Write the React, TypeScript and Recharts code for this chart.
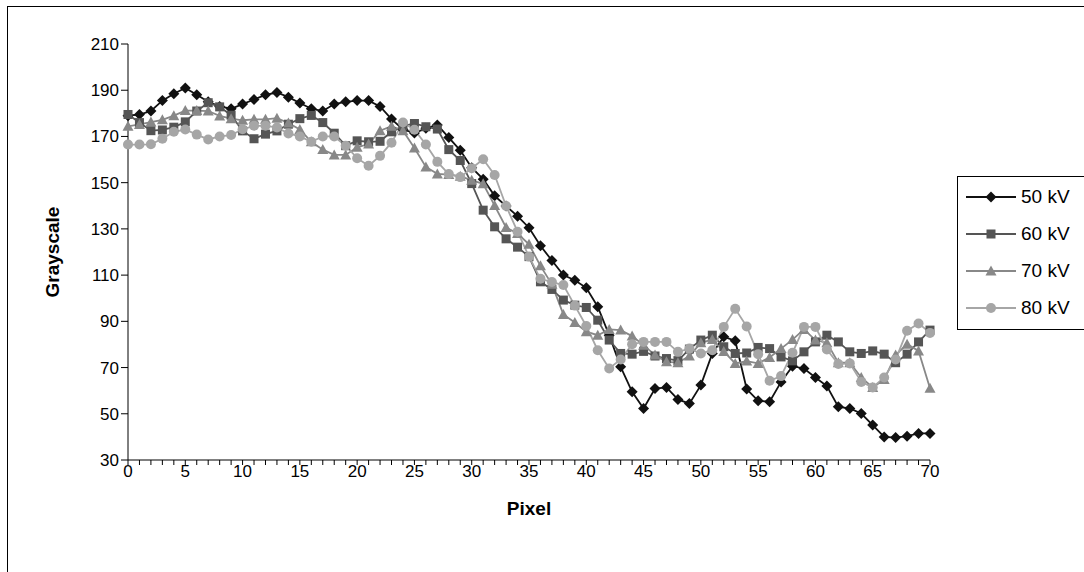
import React from 'react'
import { LineChart, Line, XAxis, YAxis } from 'recharts'

// pixel position along the profile
const PIXELS = [
  0, 1, 2, 3, 4, 5, 6, 7, 8, 9, 10, 11, 12, 13, 14, 15, 16, 17, 18, 19, 20,
  21, 22, 23, 24, 25, 26, 27, 28, 29, 30, 31, 32, 33, 34, 35, 36, 37, 38, 39, 40,
  41, 42, 43, 44, 45, 46, 47, 48, 49, 50, 51, 52, 53, 54, 55, 56, 57, 58, 59, 60,
  61, 62, 63, 64, 65, 66, 67, 68, 69, 70,
]

const KV50 = [
  179, 179.5, 181, 185.5, 188.5, 191, 188, 185, 183, 182, 184, 186, 188, 189, 187, 184.5, 182, 181, 184, 185, 185.5,
  185.5, 183, 177.5, 173, 171.5, 173.5, 175, 169.5, 164, 156.5, 151.5, 144.3, 139.9, 135.5, 130.5, 122.7, 116.3, 110, 107.8, 104.5,
  96.3, 84, 70.3, 59.5, 52.3, 60.9, 61.4, 56.2, 54.4, 62.4, 76.1, 83.3, 81.6, 60.7, 55.6, 55.2, 63.8, 70.6, 69.6, 65.7,
  62, 53, 52.3, 50.1, 45.1, 40, 39.7, 40.3, 41.5, 41.5,
]

const KV60 = [
  179.5, 176, 172.5, 172.8, 174, 176.3, 181, 184.6, 182.8, 179.2, 172.4, 169, 171, 172.4, 175.3, 177.7, 179.1, 176, 171.4, 166, 168.1,
  167.7, 167.9, 172, 174.5, 175.6, 174.2, 173.2, 164.3, 159.6, 149.6, 138.1, 130.9, 125.7, 122.1, 118, 107.1, 103.8, 99.2, 97, 96,
  90.5, 81.9, 76.1, 75.8, 77, 75, 73.9, 73, 78, 81.9, 84, 79, 76.1, 76.3, 78.7, 78.2, 74.6, 72.9, 76.8, 81.1,
  84, 81.1, 76.8, 76.1, 77.2, 75.8, 72.1, 75.8, 81.1, 86.2,
]

const KV70 = [
  174.4, 175.2, 176.2, 177.2, 179, 181.2, 181.2, 181, 178.9, 177.7, 177, 177.4, 177.4, 177.9, 175.8, 173, 167.7, 164.3, 162, 162, 165.3,
  166.7, 172.5, 174.4, 172.5, 165, 156.8, 153.8, 153.5, 152.8, 151, 149.5, 140.1, 130.6, 128, 123.3, 114, 106, 93, 89.5, 85.5,
  84, 86.5, 86.2, 83.6, 79.7, 75.4, 72.5, 72.1, 75, 80.7, 82.1, 77, 71.8, 72.8, 71.8, 74.4, 78.2, 82.1, 86.5, 81.9,
  80.7, 72.1, 72.1, 65.7, 61.4, 64.8, 75.4, 80.1, 77.2, 61,
]

const KV80 = [
  166.5, 166.5, 166.6, 169, 172, 173, 170.8, 168.7, 170, 170.6, 173.1, 174.6, 174.6, 173.9, 171.3, 170, 167.7, 170, 170, 166, 160.6,
  157.3, 161.6, 167.3, 176, 172.9, 166.5, 159, 153.7, 152.4, 156.2, 160.1, 153.3, 139.9, 128.8, 118, 108.4, 107, 105.7, 96.8, 88,
  77.5, 69.6, 73.5, 80.1, 81.1, 81.1, 81.1, 76.8, 78.2, 76.1, 77.5, 87.6, 95.4, 87.8, 75.8, 64.3, 66.3, 76.4, 87.6, 87.6,
  77.8, 71.5, 71.8, 63.8, 61.4, 65.7, 73.5, 85.9, 89.1, 85,
]

const Y_TICKS = [30, 50, 70, 90, 110, 130, 150, 170, 190, 210]

type Shape = 'diamond' | 'square' | 'triangle' | 'circle'

const SERIES: { key: string; name: string; color: string; shape: Shape }[] = [
  { key: 'kv50', name: '50 kV', color: '#111111', shape: 'diamond' },
  { key: 'kv60', name: '60 kV', color: '#555555', shape: 'square' },
  { key: 'kv70', name: '70 kV', color: '#888888', shape: 'triangle' },
  { key: 'kv80', name: '80 kV', color: '#a6a6a6', shape: 'circle' },
]

const data = PIXELS.map((p, i) => ({
  pixel: p,
  kv50: KV50[i],
  kv60: KV60[i],
  kv70: KV70[i],
  kv80: KV80[i],
}))

const FONT = '"Liberation Sans", Arial, sans-serif'

function Marker({ shape, cx, cy, color }: { shape: Shape; cx: number; cy: number; color: string }) {
  if (shape === 'diamond') {
    return <path d={`M${cx},${cy - 5.5}L${cx + 5.5},${cy}L${cx},${cy + 5.5}L${cx - 5.5},${cy}Z`} fill={color} />
  }
  if (shape === 'square') {
    return <rect x={cx - 4.5} y={cy - 4.5} width={9} height={9} fill={color} />
  }
  if (shape === 'triangle') {
    return <path d={`M${cx},${cy - 5.5}L${cx + 5.5},${cy + 4.5}L${cx - 5.5},${cy + 4.5}Z`} fill={color} />
  }
  return <circle cx={cx} cy={cy} r={5} fill={color} />
}

const dotFor = (shape: Shape, color: string) => (props: any) => {
  const { cx, cy, index } = props
  if (cx == null || cy == null) return <g key={index} />
  return (
    <g key={index}>
      <Marker shape={shape} cx={cx} cy={cy} color={color} />
    </g>
  )
}

// every pixel gets a tick mark, only multiples of 5 get a label
const PixelTick = ({ x, y, payload }: any) => {
  if (payload.value % 5 !== 0) return <g />
  return (
    <text x={x} y={y + 10} textAnchor="middle" fontSize={17} fontFamily={FONT} fill="#000">
      {payload.value}
    </text>
  )
}

const GrayTick = ({ x, y, payload }: any) => (
  <text x={x} y={y + 6} textAnchor="end" fontSize={17} fontFamily={FONT} fill="#000">
    {payload.value}
  </text>
)

function LegendBox() {
  return (
    <div
      style={{
        position: 'absolute',
        left: 957,
        top: 176,
        width: 140,
        height: 152,
        border: '1px solid #000',
        background: '#fff',
        fontFamily: FONT,
        fontSize: 19,
      }}
    >
      {SERIES.map((s, i) => (
        <div key={s.key} style={{ position: 'absolute', left: 8, top: 8 + i * 37, height: 24, display: 'flex', alignItems: 'center' }}>
          <svg width={50} height={20}>
            <line x1={0} y1={10} x2={50} y2={10} stroke={s.color} strokeWidth={2} />
            <Marker shape={s.shape} cx={25} cy={10} color={s.color} />
          </svg>
          <span style={{ marginLeft: 5, color: '#000' }}>{s.name}</span>
        </div>
      ))}
    </div>
  )
}

export default function App() {
  return (
    <div style={{ position: 'absolute', left: 0, top: 0, width: 1084, height: 572, background: '#fff', overflow: 'hidden' }}>
      <div style={{ position: 'absolute', left: 7, top: 6, width: 1090, height: 580, border: '1px solid #000' }} />
      <div style={{ position: 'absolute', left: 0, top: 0 }}>
        <LineChart width={1084} height={572} data={data} margin={{ top: 44, right: 154, bottom: 82, left: 68 }}>
          <XAxis
            type="number"
            dataKey="pixel"
            domain={[0, 70]}
            ticks={PIXELS}
            interval={0}
            height={30}
            tickSize={5}
            tick={<PixelTick />}
            stroke="#000"
            label={{ value: 'Pixel', position: 'bottom', offset: 12, style: { fontFamily: FONT, fontSize: 19, fontWeight: 'bold', fill: '#000' } }}
          />
          <YAxis
            type="number"
            domain={[30, 210]}
            ticks={Y_TICKS}
            interval={0}
            width={60}
            tickSize={7}
            tick={<GrayTick />}
            stroke="#000"
            label={{ value: 'Grayscale', angle: -90, position: 'insideLeft', offset: -16, style: { textAnchor: 'middle', fontFamily: FONT, fontSize: 19, fontWeight: 'bold', fill: '#000' } }}
          />
          {SERIES.map((s) => (
            <Line
              key={s.key}
              type="linear"
              dataKey={s.key}
              name={s.name}
              stroke={s.color}
              strokeWidth={1.8}
              dot={dotFor(s.shape, s.color)}
              activeDot={false}
              isAnimationActive={false}
            />
          ))}
        </LineChart>
      </div>
      <LegendBox />
    </div>
  )
}
